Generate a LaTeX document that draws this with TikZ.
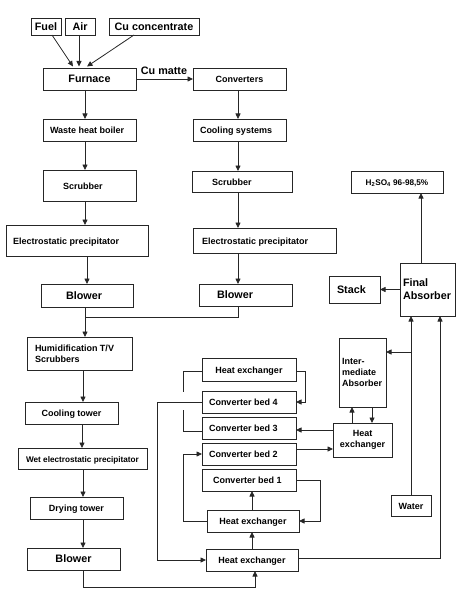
\documentclass[tikz,border=0pt]{standalone}
\usepackage{fontspec}
\setmainfont{Liberation Sans}
\usetikzlibrary{arrows.meta,calc}
\tikzset{
 box/.style={draw=black!85, line width=0.8pt, rectangle, inner sep=0pt, outer sep=0pt, text=black, text height=0.72em, text depth=0pt},
 xs/.style={font=\bfseries\fontsize{8.2}{10}\selectfont},
 sm/.style={font=\bfseries\fontsize{9}{11}\selectfont},
 lg/.style={font=\bfseries\fontsize{10.8}{13}\selectfont},
 multi/.style={text height=, text depth=},
 arr/.style={draw=black!85, line width=0.8pt, -{Triangle[length=5.5pt,width=5pt]}},
 ln/.style={draw=black!85, line width=0.8pt},
 txt/.style={inner sep=0pt, outer sep=0pt, text=black, text height=0.72em, text depth=0pt},
}
\newcommand\bxc[7]{\node[box,#6,align=center,minimum width={(#4)-(#2)},minimum height={(#5)-(#3)}] (#1) at ({((#2)+(#4))/2},{((#3)+(#5))/2}) {#7};}
\newcommand\bxl[8]{\node[box,minimum width={(#4)-(#2)},minimum height={(#5)-(#3)}] (#1) at ({((#2)+(#4))/2},{((#3)+(#5))/2}) {};
 \node[txt,#6,anchor=west,align=left] (#1t) at (#7,{((#3)+(#5))/2}) {#8};}
\begin{document}
\begin{tikzpicture}[x=1pt,y=-1pt]
\useasboundingbox (0,0) rectangle (461,591);
% boxes
\bxc{fuel}{31}{18}{61}{35}{lg}{Fuel}
\bxc{air}{65}{18}{95}{35}{lg}{Air}
\bxc{cu}{109}{18}{199}{35}{lg}{Cu concentrate}
\bxc{furnace}{43}{68}{136}{90}{lg}{Furnace}
\bxc{conv}{193}{68}{286}{90}{sm}{Converters}
\bxl{whb}{43}{119}{136}{141}{sm}{50}{Waste heat boiler}
\bxl{cool}{193}{119}{286}{141}{sm}{200}{Cooling systems}
\bxl{scrubL}{43}{170}{136}{201}{sm}{63}{Scrubber}
\bxl{scrubR}{192}{171}{292}{192}{sm}{212}{Scrubber}
\bxl{espL}{6}{225}{148}{256}{sm}{13}{Electrostatic precipitator}
\bxl{espR}{193}{228}{336}{253}{sm}{202}{Electrostatic precipitator}
\bxl{blowL}{41}{284}{133}{307}{lg}{66}{Blower}
\bxl{blowR}{199}{284}{292}{306}{lg}{217}{Blower}
\bxl{humid}{27}{337}{132}{370}{sm,multi}{35}{Humidification T/V\\Scrubbers}
\bxc{ctower}{25}{402}{118}{424}{sm}{Cooling tower}
\bxc{wesp}{18}{448}{147}{469}{xs}{Wet electrostatic precipitator}
\bxc{dry}{30}{497}{123}{519}{sm}{Drying tower}
\bxc{blowB}{27}{548}{120}{570}{lg}{Blower}
\bxc{hxT}{202}{358}{296}{381}{sm}{Heat exchanger}
\bxl{cb4}{202}{391}{296}{413}{sm}{209}{Converter bed 4}
\bxl{cb3}{202}{417}{296}{439}{sm}{209}{Converter bed 3}
\bxl{cb2}{202}{443}{296}{465}{sm}{209}{Converter bed 2}
\bxl{cb1}{202}{469}{296}{491}{sm}{213}{Converter bed 1}
\bxc{hxM}{207}{510}{299}{532}{sm}{Heat exchanger}
\bxc{hxB}{206}{549}{298}{571}{sm}{Heat exchanger}
\bxc{hxR}{333}{423}{392}{457}{sm,multi}{Heat\\exchanger}
\bxl{ia}{339}{338}{386}{407}{sm,multi}{342}{Inter-\\mediate\\Absorber}
\bxl{fa}{400}{263}{455}{316}{lg,multi}{403}{Final\\Absorber}
\bxl{stack}{329}{276}{380}{303}{lg}{337}{Stack}
\bxc{h2so4}{351}{171}{443}{193}{xs}{H\textsubscript{2}SO\textsubscript{4} 96-98,5\%}
\bxc{water}{391}{495}{431}{516}{sm}{Water}
\node[txt,lg] (cumatte) at (164,70.5) {Cu matte};
% helper coordinates
\coordinate (j1) at (85,317);
\coordinate (j2) at (255,587);
\coordinate (j3) at (183,454);
\coordinate (j4) at (320,480);
\coordinate (j5) at (305,371.5);
\coordinate (j6) at (157,402);
\coordinate (j7) at (411,352);
\coordinate (g1) at (183,392);
\coordinate (g2) at (183,410);
% inputs
\draw[arr] ([xshift=6pt]fuel.south) -- ([xshift=-16.5pt,yshift=1.5pt]furnace.north);
\draw[arr] ([xshift=-1pt]air.south) -- ([xshift=-10.5pt,yshift=1.5pt]furnace.north);
\draw[arr] ([xshift=-20pt]cu.south) -- ([xshift=-2.5pt,yshift=1.5pt]furnace.north);
\draw[arr] (furnace.east) -- (conv.west);
% left column
\draw[arr] ([xshift=-4.5pt]furnace.south) -- ([xshift=-4.5pt]furnace.south |- whb.north);
\draw[arr] ([xshift=-4.5pt]whb.south) -- ([xshift=-4.5pt]whb.south |- scrubL.north);
\draw[arr] ([xshift=-4.5pt]scrubL.south) -- ([xshift=-4.5pt]scrubL.south |- espL.north);
\draw[arr] ([xshift=10pt]espL.south) -- ([xshift=10pt]espL.south |- blowL.north);
\draw[arr] ([xshift=-2pt]blowL.south) -- ([xshift=-2pt]blowL.south |- humid.north);
% right column
\draw[arr] ([xshift=-1.5pt]conv.south) -- ([xshift=-1.5pt]conv.south |- cool.north);
\draw[arr] ([xshift=-1.5pt]cool.south) -- ([xshift=-1.5pt]cool.south |- scrubR.north);
\draw[arr] ([xshift=-4pt]scrubR.south) -- ([xshift=-4pt]scrubR.south |- espR.north);
\draw[arr] ([xshift=-26.5pt]espR.south) -- ([xshift=-26.5pt]espR.south |- blowR.north);
\draw[ln] ([xshift=-7.5pt]blowR.south) |- (j1);
% gas cleaning train
\draw[arr] ([xshift=3.5pt]humid.south) -- ([xshift=3.5pt]humid.south |- ctower.north);
\draw[arr] ([xshift=10.5pt]ctower.south) -- ([xshift=10.5pt]ctower.south |- wesp.north);
\draw[arr] ([xshift=0.5pt]wesp.south) -- ([xshift=0.5pt]wesp.south |- dry.north);
\draw[arr] ([xshift=6.5pt]dry.south) -- ([xshift=6.5pt]dry.south |- blowB.north);
\draw[arr] ([xshift=9.5pt]blowB.south) |- (j2) -- (j2 |- hxB.south);
% converter
\draw[arr] (hxB.north) -- (hxB.north |- hxM.south);
\draw[arr] ([xshift=-1pt]hxM.north) -- ([xshift=-1pt]hxM.north |- cb1.south);
\draw[arr] (hxM.west) -| (j3) -- (cb2.west);
\draw[arr] (cb1.east) -- (j4) |- (hxM.east);
\draw[arr] ([yshift=5pt]cb2.east) -- ([yshift=5pt]cb2.east -| hxR.west);
\draw[arr] ([yshift=10pt]hxR.west) -- ([yshift=10pt]hxR.west -| cb3.east);
\draw[arr] ([xshift=-10.5pt]hxR.north) -- ([xshift=-10.5pt]hxR.north |- ia.south);
\draw[arr] ([xshift=9.5pt]ia.south) -- ([xshift=9.5pt]ia.south |- hxR.north);
\draw[ln] ([yshift=-2pt]hxT.west) -| (g1);
\draw[ln] (g2) |- ([yshift=-3pt]cb3.west);
\draw[arr] ([yshift=-2pt]hxT.east) -- (j5) |- (cb4.east);
\draw[arr] (cb4.west) -- (j6) |- (hxB.west);
% absorbers
\draw[arr] ([yshift=2pt]hxB.east) -| ([xshift=12.5pt]fa.south);
\draw[arr] (water.north) -- (water.north |- fa.south);
\draw[arr] (j7) -- (j7 -| ia.east);
\draw[arr] ([xshift=-6.5pt]fa.north) -- ([xshift=-6.5pt]fa.north |- h2so4.south);
\draw[arr] (fa.west) -- (stack.east);
\end{tikzpicture}
\end{document}
